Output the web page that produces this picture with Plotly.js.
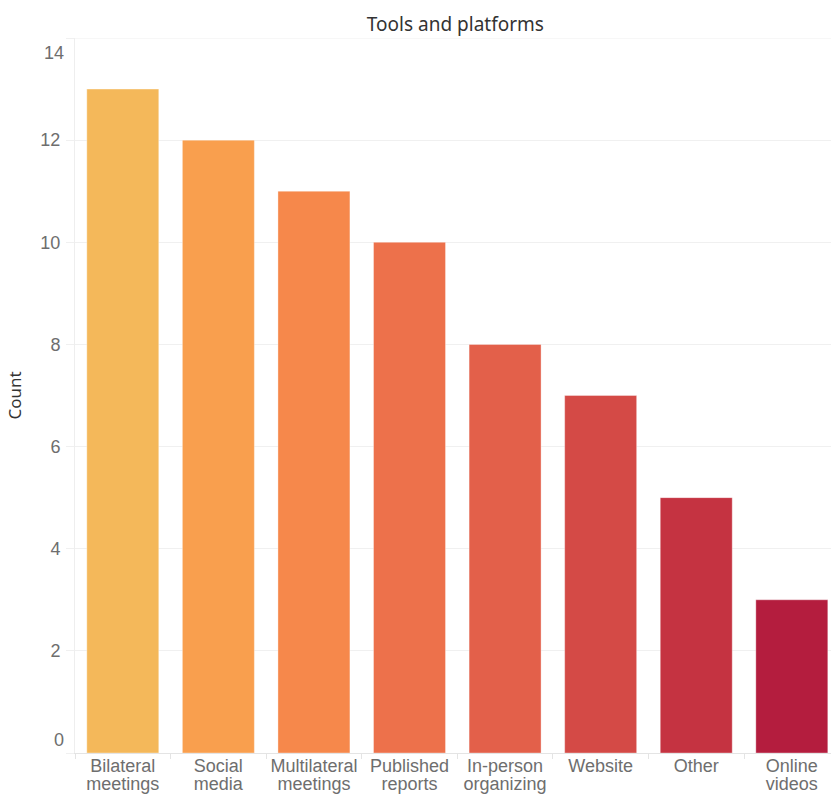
<!DOCTYPE html>
<html>
<head>
<meta charset="utf-8">
<script src="https://cdn.plot.ly/plotly-3.0.1.min.js"></script>
<style>
  html, body { margin: 0; padding: 0; background: #fff; }
  #chart { width: 831px; height: 796px; }
</style>
</head>
<body>
<div id="chart"></div>
<script>
// Tools and platforms used, by number of mentions
const categories = [
  "Bilateral meetings", "Social media", "Multilateral meetings", "Published reports",
  "In-person organizing", "Website", "Other", "Online videos"
];
const labelTop = ["Bilateral", "Social", "Multilateral", "Published", "In-person", "Website", "Other", "Online"];
const labelBottom = ["meetings", "media", "meetings", "reports", "organizing", "", "", "videos"];
const counts = [13, 12, 11, 10, 8, 7, 5, 3];
const barColors = [
  "#F4B85A", "#F99F4E", "#F6884B", "#ED714B",
  "#E3604A", "#D44A46", "#C53341", "#B41D3E"
];
const yTicks = [2, 4, 6, 8, 10, 12];

const gridColor = "#f0f0f0";
const tickFont = { family: "Liberation Sans, Arial, sans-serif", size: 18, color: "#6e6e6e" };

const bars = {
  type: "bar",
  x: categories,
  y: counts,
  marker: { color: barColors, line: { color: "rgba(255,255,255,0.35)", width: 1 } },
  hoverinfo: "x+y",
  showlegend: false
};

// invisible helpers so the extra label axes get a subplot
function helper(xa, ya) {
  return { type: "scatter", mode: "markers", x: categories, y: counts, xaxis: xa, yaxis: ya,
    marker: { opacity: 0 }, hoverinfo: "skip", showlegend: false };
}

const yRange = [0, 14];
const xRange = [-0.5, 7.41];

const layout = {
  width: 831,
  height: 796,
  margin: { l: 75, r: 0, t: 38, b: 43 },
  paper_bgcolor: "#ffffff",
  plot_bgcolor: "#ffffff",
  bargap: 0.247,
  title: {
    text: "Tools and platforms",
    font: { family: "Noto Sans, sans-serif", size: 19, color: "#333333" },
    x: 0.548, xanchor: "center", y: 0.978, yanchor: "top"
  },
  xaxis: {
    range: xRange,
    tickvals: categories,
    ticktext: labelTop,
    tickson: "boundaries",
    ticks: "outside",
    ticklen: 5,
    tickcolor: "#e4e4e4",
    tickangle: 0,
    showline: true,
    linecolor: "#e4e4e4",
    showgrid: false,
    tickfont: tickFont,
    ticklabelstandoff: -4,
    fixedrange: true
  },
  xaxis2: {
    overlaying: "x",
    anchor: "y",
    side: "bottom",
    range: xRange,
    tickvals: categories,
    ticktext: labelBottom,
    tickangle: 0,
    ticks: "",
    showline: false,
    showgrid: false,
    zeroline: false,
    tickfont: tickFont,
    ticklabelstandoff: 18,
    fixedrange: true
  },
  yaxis: {
    range: yRange,
    tickvals: [0].concat(yTicks).concat([14]),
    ticktext: [""].concat(yTicks.map(String)).concat([""]),
    ticks: "outside",
    ticklen: 8,
    tickcolor: gridColor,
    showgrid: true,
    gridcolor: gridColor,
    zeroline: false,
    showline: true,
    linecolor: "#eeeeee",
    tickfont: tickFont,
    ticklabelstandoff: 2,
    title: { text: "Count", font: { family: "Noto Sans, sans-serif", size: 17, color: "#333333" }, standoff: 14 },
    fixedrange: true
  },
  yaxis2: {
    overlaying: "y",
    side: "left",
    range: yRange,
    tickvals: [0],
    ticktext: ["0"],
    showgrid: false, zeroline: false, showline: false, ticks: "",
    tickfont: tickFont,
    ticklabelshift: -13,
    ticklabelstandoff: 10,
    fixedrange: true
  },
  yaxis3: {
    overlaying: "y",
    side: "left",
    range: yRange,
    tickvals: [14],
    ticktext: ["14"],
    showgrid: false, zeroline: false, showline: false, ticks: "",
    tickfont: tickFont,
    ticklabelshift: 15,
    ticklabelstandoff: 10,
    fixedrange: true
  },
  shapes: [
    { type: "line", xref: "paper", yref: "y", x0: 0, x1: 1, y0: 14, y1: 14,
      line: { color: gridColor, width: 1 } }
  ]
};

Plotly.newPlot("chart",
  [bars, helper("x", "y2"), helper("x", "y3"), helper("x2", "y")],
  layout, { displayModeBar: false, staticPlot: true });
</script>
</body>
</html>
